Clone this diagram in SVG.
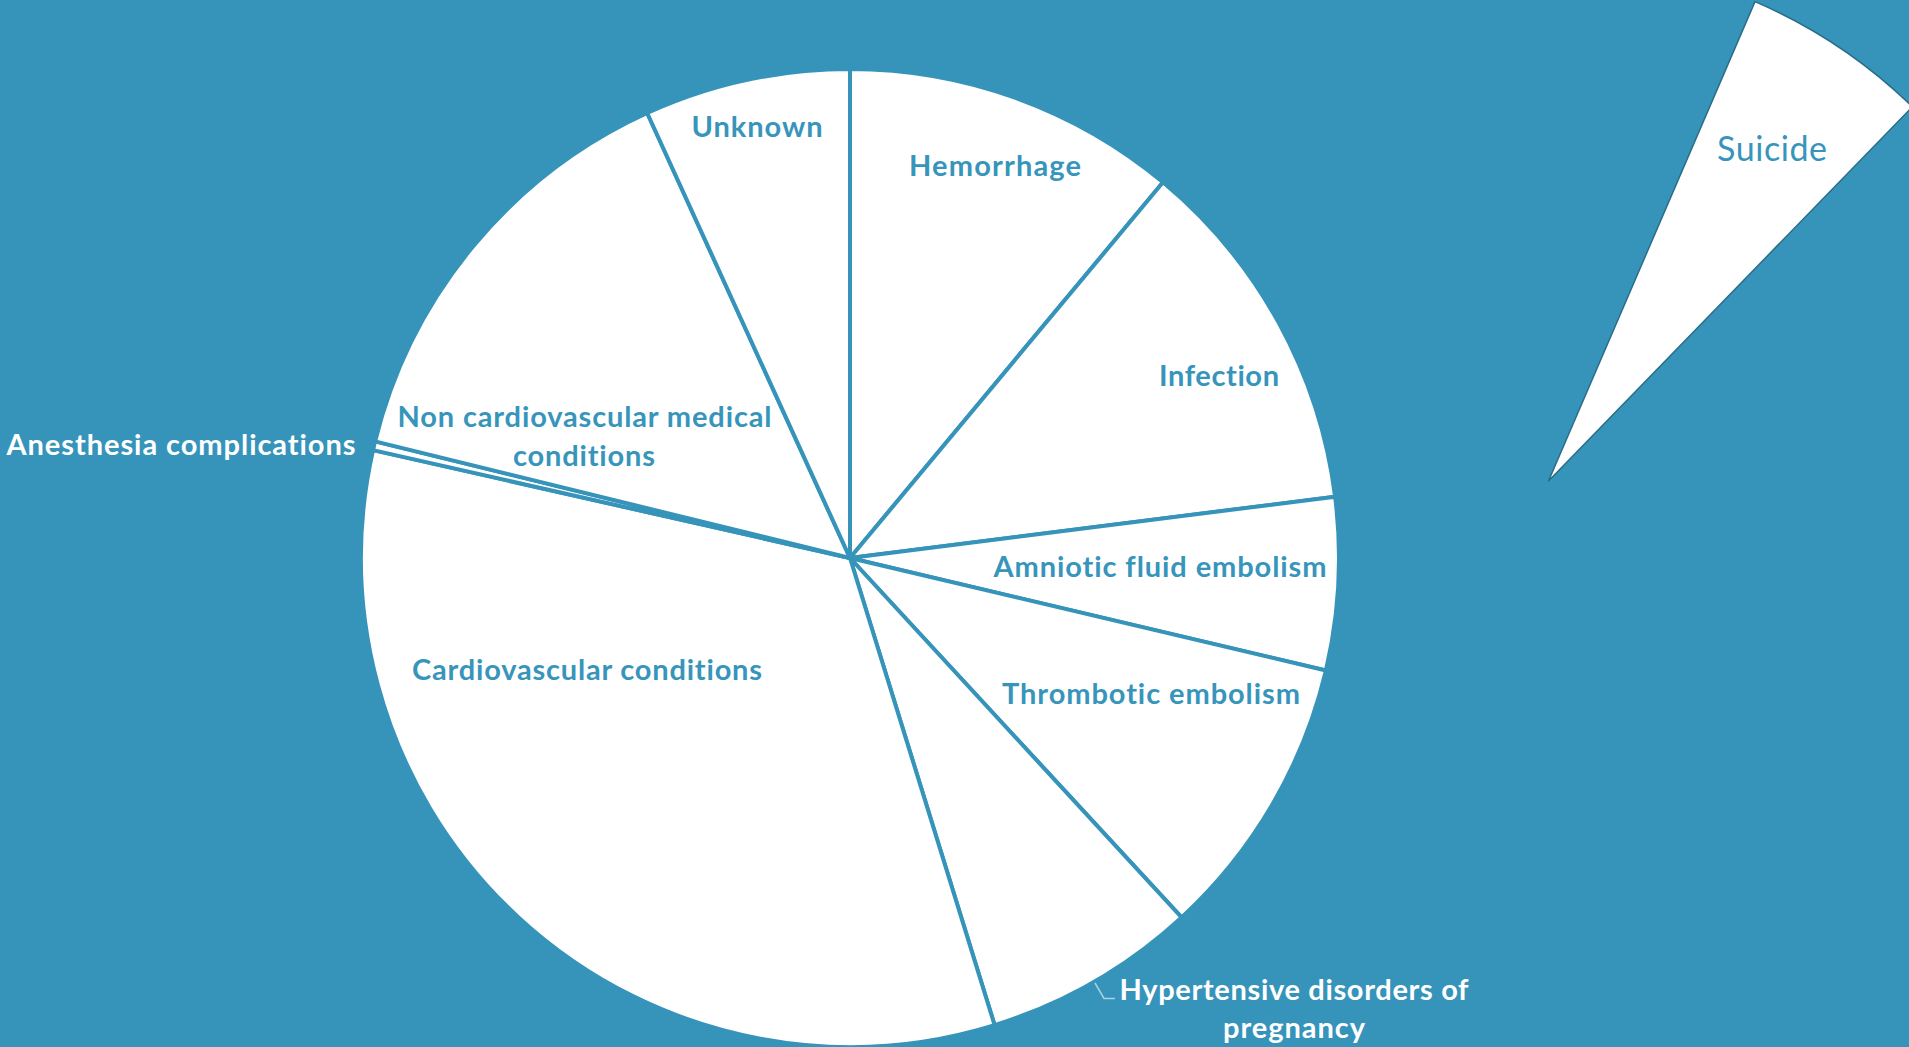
<svg xmlns="http://www.w3.org/2000/svg" width="1909" height="1047" viewBox="0 0 1909 1047">
<style>
.bg{fill:#3694ba}
.slice{fill:#ffffff;stroke:#3694ba;stroke-width:4;stroke-linejoin:round}
text{font-variant-ligatures:none;font-feature-settings:"liga" 0,"clig" 0}
.lbl{font-family:Lato,"Open Sans","Liberation Sans",sans-serif;font-weight:bold;font-size:29px;fill:#3795bb;text-anchor:middle}
.lblw{font-family:Lato,"Open Sans","Liberation Sans",sans-serif;font-weight:bold;font-size:29px;fill:#ffffff;text-anchor:middle}
.sui{fill:#ffffff;stroke:#2a6d88;stroke-width:1.5;stroke-linejoin:round}
.suit{font-family:Lato,"Open Sans","Liberation Sans",sans-serif;font-weight:normal;font-size:34px;fill:#3795bb;text-anchor:middle}
.leader{fill:none;stroke:#a6d2e3;stroke-width:1.5}
</style>
<rect class="bg" x="0" y="0" width="1909" height="1047"/>
<g id="hemorrhage">
<path class="slice" d="M850,558 L850,69 A489,489 0 0 1 1163,182.3 Z"/>
<text class="lbl" x="995" y="176" textLength="172">Hemorrhage</text>
</g>
<g id="infection">
<path class="slice" d="M850,558 L1163,182.3 A489,489 0 0 1 1335.1,496.7 Z"/>
<text class="lbl" x="1219" y="386" textLength="120">Infection</text>
</g>
<g id="amniotic">
<path class="slice" d="M850,558 L1335.1,496.7 A489,489 0 0 1 1325.9,670.5 Z"/>
<text class="lbl" x="1160" y="577" textLength="333">Amniotic fluid embolism</text>
</g>
<g id="thrombotic">
<path class="slice" d="M850,558 L1325.9,670.5 A489,489 0 0 1 1181.6,917.4 Z"/>
<text class="lbl" x="1151" y="703.5" textLength="298">Thrombotic embolism</text>
</g>
<g id="hypertensive">
<path class="slice" d="M850,558 L1181.6,917.4 A489,489 0 0 1 994.6,1025.1 Z"/>
<text class="lblw" x="1294" y="999.5" textLength="349">Hypertensive disorders of</text>
<text class="lblw" x="1294" y="1037.5" textLength="142">pregnancy</text>
</g>
<g id="cardiovascular">
<path class="slice" d="M850,558 L994.6,1025.1 A489,489 0 0 1 373.1,450.1 Z"/>
<text class="lbl" x="587" y="680" textLength="350">Cardiovascular conditions</text>
</g>
<g id="anesthesia">
<path class="slice" d="M850,558 L373.1,450.1 A489,489 0 0 1 375.1,441.4 Z"/>
<text class="lblw" x="181" y="455" textLength="349">Anesthesia complications</text>
</g>
<g id="noncardiovascular">
<path class="slice" d="M850,558 L375.1,441.4 A489,489 0 0 1 647.2,113 Z"/>
<text class="lbl" x="584.5" y="427" textLength="374">Non cardiovascular medical</text>
<text class="lbl" x="584" y="466" textLength="142">conditions</text>
</g>
<g id="unknown">
<path class="slice" d="M850,558 L647.2,113 A489,489 0 0 1 850,69 Z"/>
<text class="lbl" x="757" y="137" textLength="131">Unknown</text>
</g>
<g id="suicide">
<path class="sui" d="M1548.5,481 L1755,1.6 A522,522 0 0 1 1912.4,106.8 Z"/>
<text class="suit" x="1772" y="161" textLength="110">Suicide</text>
</g>
<g id="connectors">
<polyline class="leader" points="1095,983 1104,998.5 1115,998.5"/>
</g>
</svg>
